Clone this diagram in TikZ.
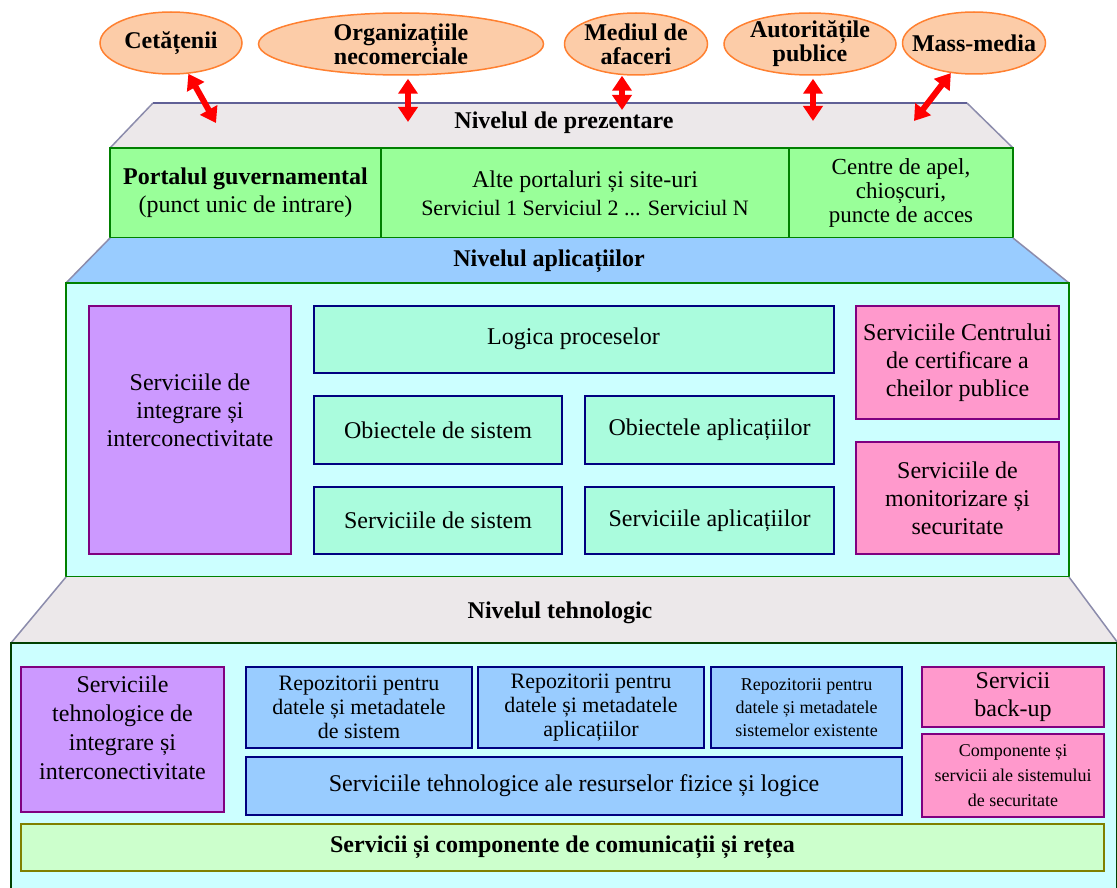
\documentclass[tikz,border=0pt]{standalone}
\usepackage{fontspec}
\setmainfont{Liberation Serif}
\usetikzlibrary{positioning,arrows.meta,shapes.geometric}

\definecolor{peach}{RGB}{252,204,168}
\definecolor{peachline}{RGB}{255,128,48}
\definecolor{pgray}{RGB}{236,232,234}
\definecolor{slate}{RGB}{96,96,150}
\definecolor{edgegray}{RGB}{140,140,172}
\definecolor{dgreen}{RGB}{0,128,0}
\definecolor{lgreen}{RGB}{153,255,153}
\definecolor{lblue}{RGB}{153,204,255}
\definecolor{lcyan}{RGB}{204,255,255}
\definecolor{mint}{RGB}{170,252,221}
\definecolor{navy}{RGB}{0,0,128}
\definecolor{lpurple}{RGB}{204,153,255}
\definecolor{dpurple}{RGB}{128,0,128}
\definecolor{lpink}{RGB}{255,153,204}
\definecolor{lolive}{RGB}{204,255,204}
\definecolor{olive}{RGB}{128,128,0}

\begin{document}
\begin{tikzpicture}[x=1pt,y=-1pt]
    \tikzset{
        actor/.style={ellipse,draw=peachline,fill=peach,line width=1.5pt,minimum height=62},
        actortext/.style={font=\fontsize{24}{24}\selectfont\bfseries,align=center},
        link/.style={red,line width=6pt,{Triangle[width=19pt,length=15pt]}-{Triangle[width=19pt,length=15pt]}},
        level/.style={font=\fontsize{24}{26}\selectfont\bfseries},
        box/.style={draw,line width=2pt,inner sep=2pt,align=center,font=\fontsize{24}{28}\selectfont},
        portbox/.style={box,draw=dgreen,fill=lgreen,minimum height=90},
        layerbox/.style={box,draw=dgreen,fill=lcyan},
        appbox/.style={box,draw=navy,fill=mint},
        intbox/.style={box,draw=dpurple,fill=lpurple},
        secbox/.style={box,draw=dpurple,fill=lpink},
        repobox/.style={box,draw=navy,fill=lblue,font=\fontsize{22}{24}\selectfont},
        slant/.style={edgegray,line width=1.5pt},
    }
    \useasboundingbox (0,0) rectangle (1117,888);

    % actori
    \node[actor,minimum width=142,label={[actortext]center:Cetățenii}] (cet) at (171,43) {};
    \node[actor,minimum width=285,label={[actortext]center:Organizațiile\\necomerciale}] (org) at (401,44) {};
    \node[actor,minimum width=143,label={[actortext]center:Mediul de\\afaceri}] (med) at (636,44) {};
    \node[actor,minimum width=172,label={[actortext]center:Autoritățile\\publice}] (aut) at (810,44) {};
    \node[actor,minimum width=143,label={[actortext]center:Mass-media}] (mas) at (974,43) {};

    % nivelul de prezentare
    \fill[pgray] (153,103) -- (967,103) -- (1013,148) -- (110,148) -- cycle;
    \draw[slant] (110,148) -- (153,103) (967,103) -- (1013,148);
    \draw[slate,line width=2pt] (153,103) -- (967,103);
    \node[level] (lvlpres) at (564,123) {Nivelul de prezentare};
    \node[portbox,minimum width=271] (port) at (245.5,193) {\textbf{Portalul guvernamental}\\(punct unic de intrare)};
    \node[portbox,minimum width=408] (alte) at (585,193) {Alte portaluri  și site-uri\\{\fontsize{22}{22}\selectfont Serviciul 1 Serviciul 2 ... Serviciul N}};
    \node[portbox,minimum width=224,font=\fontsize{23}{24}\selectfont] (centre) at (901,193) {Centre de apel,\\chioșcuri,\\puncte de acces};

    \coordinate (p1) at (216,123);
    \coordinate (p2) at (408,122);
    \coordinate (p3) at (622,110);
    \coordinate (p4) at (813,121);
    \coordinate (p5) at (914,121);
    \draw[link] (cet) -- (p1);
    \draw[link] ([yshift=-3]org.south -| p2) -- (p2);
    \draw[link] (med.south -| p3) -- (p3);
    \draw[link] ([yshift=-3]aut.south -| p4) -- (p4);
    \draw[link] (mas) -- (p5);

    % nivelul aplicatiilor
    \fill[lblue] (110,238) -- (1013,238) -- (1069,283) -- (66,283) -- cycle;
    \draw[slant] (66,283) -- (110,238) (1013,238) -- (1069,283);
    \node[level] (lvlapl) at (549,261) {Nivelul aplicațiilor};
    \node[layerbox,minimum width=1003,minimum height=294] (apl) at (567.5,430) {};
    \node[intbox,minimum width=202,minimum height=248,
        label={[align=center,font=\fontsize{24}{28}\selectfont,yshift=20pt]center:Serviciile de\\integrare și\\interconectivitate}] (intapl) at (190,430) {};
    \node[appbox,minimum width=520,minimum height=67] (logica) at (573.5,339) {Logica proceselor};
    \node[appbox,minimum width=248,minimum height=68] (obsis) at (438,430) {Obiectele de sistem};
    \node[appbox,minimum width=249,minimum height=68] (obapl) at (709.5,430) {Obiectele aplicațiilor};
    \node[appbox,minimum width=248,minimum height=67] (servsis) at (438,520.5) {Serviciile de sistem};
    \node[appbox,minimum width=249,minimum height=67] (servapl) at (709.5,520.5) {Serviciile aplicațiilor};
    \node[secbox,minimum width=203,minimum height=113] (certif) at (957.5,362.5) {Serviciile Centrului\\de certificare a\\cheilor publice};
    \node[secbox,minimum width=203,minimum height=112] (monit) at (957.5,498) {Serviciile de\\monitorizare și\\securitate};

    % nivelul tehnologic
    \fill[pgray] (66,577) -- (1069,577) -- (1118,643) -- (11,643) -- cycle;
    \draw[slant] (11,643) -- (66,577) (1069,577) -- (1118,643);
    \node[level] (lvltech) at (560,613) {Nivelul tehnologic};
    \node[layerbox,draw=black!75!green,minimum width=1106,minimum height=248] (teh) at (564,767) {};
    \node[intbox,minimum width=203,minimum height=145,
        label={[align=center,font=\fontsize{24}{29}\selectfont,yshift=12pt]center:Serviciile\\tehnologice de\\integrare și\\interconectivitate}] (intteh) at (122.5,739.5) {};
    \node[repobox,minimum width=226,minimum height=81] (repo1) at (359,707.5) {Repozitorii pentru\\datele și metadatele\\de sistem};
    \node[repobox,minimum width=226,minimum height=81] (repo2) at (591,707.5) {Repozitorii pentru\\datele și metadatele\\aplicațiilor};
    \node[repobox,minimum width=191,minimum height=81,font=\fontsize{18}{23}\selectfont] (repo3) at (806.5,707.5) {Repozitorii pentru\\datele și metadatele\\sistemelor existente};
    \node[repobox,minimum width=656,minimum height=58,font=\fontsize{24}{28}\selectfont] (resfiz) at (574,786) {Serviciile tehnologice ale resurselor fizice și logice};
    \node[secbox,minimum width=182,minimum height=60] (backup) at (1013,697) {Servicii\\back-up};
    \node[secbox,minimum width=182,minimum height=83,font=\fontsize{18}{25}\selectfont] (compsec) at (1013,775.5) {Componente și\\servicii ale sistemului\\de securitate};
    \node[box,draw=olive,fill=lolive,minimum width=1083,minimum height=47,font=\fontsize{24}{28}\selectfont\bfseries] (retea) at (562.5,847.5) {Servicii și componente de comunicații și rețea};
\end{tikzpicture}
\end{document}
